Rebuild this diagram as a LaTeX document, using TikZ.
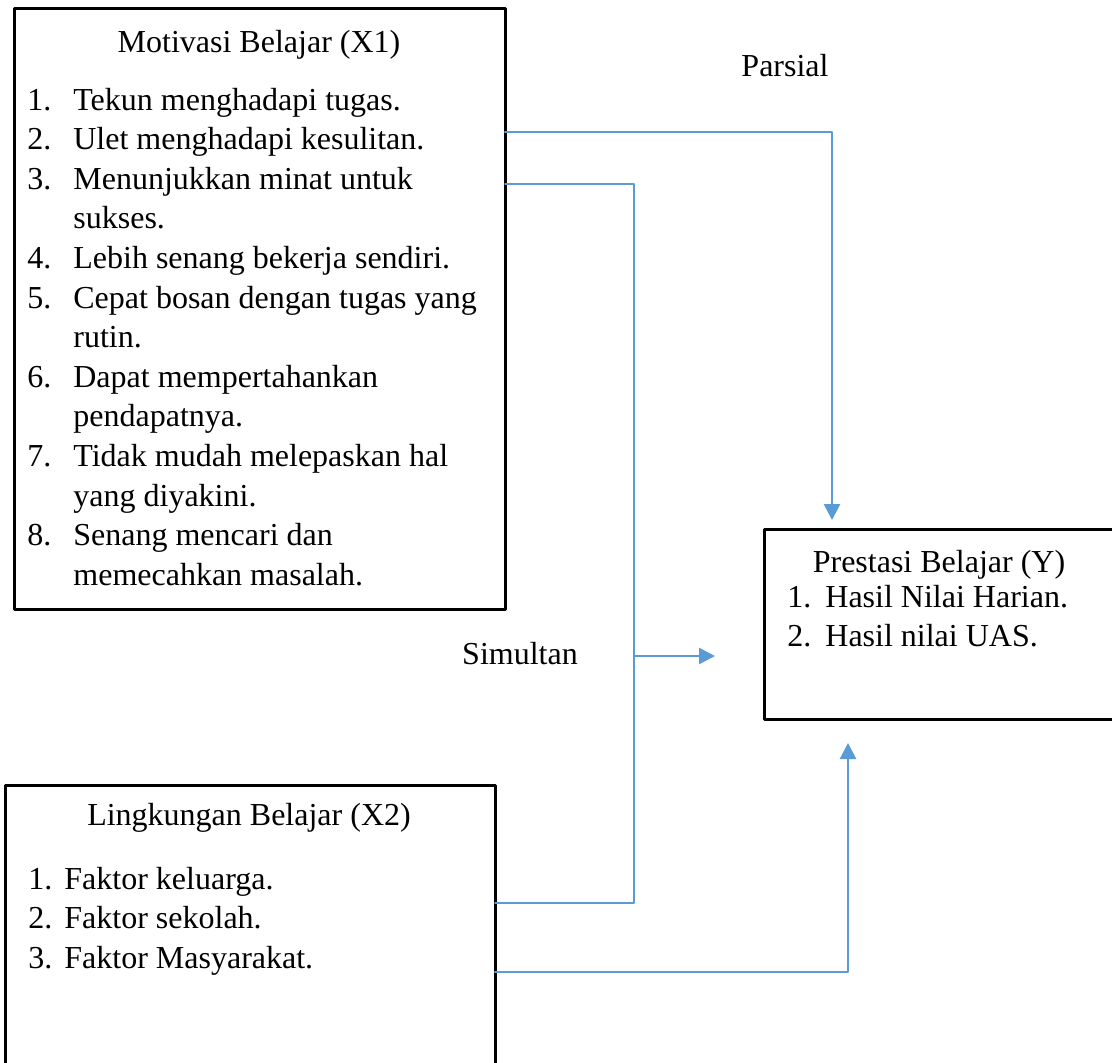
\documentclass[tikz,border=0pt]{standalone}
\usepackage{fontspec}
\setmainfont{Liberation Serif}
\usepackage{array}
\usetikzlibrary{calc,arrows.meta}
\definecolor{lineblue}{HTML}{5B9BD5}

\begin{document}
\begin{tikzpicture}[x=0.5pt, y=-0.5pt, line cap=round, line join=round,
    box/.style={draw, line width=1.5pt, rectangle, inner sep=0pt, outer sep=0pt, anchor=north west},
    txt/.style={inner sep=0pt, font=\fontsize{16}{19.8}\selectfont},
    line/.style={draw=lineblue, line width=0.9pt},
    arrow/.style={line, line width=1.3pt, -{Triangle[width=8pt,length=8pt]}}]
  \useasboundingbox (0,0) rectangle (1112,1062);
  \clip (0,0) rectangle (1112,1062);

  % boxes
  \node[box, minimum width=245.5pt, minimum height=300.5pt] (X1) at (14,8) {};
  \node[box, minimum width=245pt, minimum height=160pt] (X2) at (5,785) {};
  \node[box, minimum width=190pt, minimum height=95pt] (Y) at (764,529) {};

  % box titles
  \node[txt, anchor=base] (X1title) at (259,52) {Motivasi Belajar (X1)};
  \node[txt, anchor=base] (X2title) at (249,825) {Lingkungan Belajar (X2)};
  \node[txt, anchor=base] (Ytitle) at (939,572) {Prestasi Belajar (Y)};

  % indicator lists
  \node[txt, anchor=base west] (X1list) at (27,110) {%
    \begin{tabular}[t]{@{}p{23pt}@{}l@{}}
      1. & Tekun menghadapi tugas.\\
      2. & Ulet menghadapi kesulitan.\\
      3. & Menunjukkan minat untuk\\
         & sukses.\\
      4. & Lebih senang bekerja sendiri.\\
      5. & Cepat bosan dengan tugas yang\\
         & rutin.\\
      6. & Dapat mempertahankan\\
         & pendapatnya.\\
      7. & Tidak mudah melepaskan hal\\
         & yang diyakini.\\
      8. & Senang mencari dan\\
         & memecahkan masalah.
    \end{tabular}};
  \node[txt, anchor=base west] (X2list) at (28,889) {%
    \begin{tabular}[t]{@{}p{18pt}@{}l@{}}
      1. & Faktor keluarga.\\
      2. & Faktor sekolah.\\
      3. & Faktor Masyarakat.
    \end{tabular}};
  \node[txt, anchor=base west] (Ylist) at (787,607) {%
    \begin{tabular}[t]{@{}p{19pt}@{}l@{}}
      1. & Hasil Nilai Harian.\\
      2. & Hasil nilai UAS.
    \end{tabular}};

  % relation labels
  \node[txt, anchor=base] (parsial) at (785,76) {Parsial};
  \node[txt, anchor=base] (simultan) at (520,664) {Simultan};

  % bends of the connectors
  \coordinate (pbend) at (832,132);
  \coordinate (sbend) at (634,184);
  \coordinate (sfoot) at (634,903);
  \coordinate (stip) at (715,656);
  \coordinate (lbend) at (848,972);

  % partial effect of X1
  \draw[arrow] (X1.east |- pbend) -- (pbend) -- ([yshift=4.5pt]Y.north -| pbend);
  % simultaneous effect of X1 and X2
  \draw[line] (X1.east |- sbend) -- (sbend) -- (sfoot) -- (X2.east |- sfoot);
  \draw[arrow] (sfoot |- stip) -- (stip);
  % partial effect of X2
  \draw[arrow] (X2.east |- lbend) -- (lbend) -- ([yshift=-12pt]Y.south -| lbend);
\end{tikzpicture}
\end{document}
